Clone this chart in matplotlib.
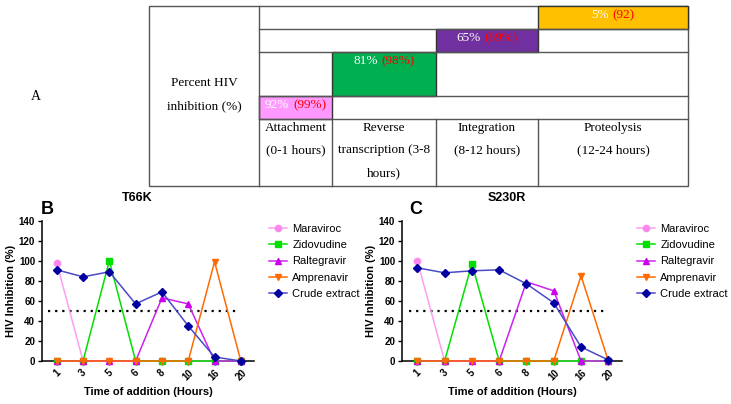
import numpy as np
import matplotlib
matplotlib.use('Agg')
import matplotlib.pyplot as plt
from matplotlib.patches import Rectangle
from matplotlib.offsetbox import TextArea, HPacker, AnnotationBbox

#%% Data
stages = ['Attachment\n(0-1 hours)', 'Reverse\ntranscription (3-8\nhours)',
          'Integration\n(8-12 hours)', 'Proteolysis\n(12-24 hours)']
stage_main = ['92%', '81%', '65%', '5%']
stage_ref = ['(99%)', '(98%)', '(69%)', '(92)']
stage_colors = ['#FF99FF', '#00B050', '#7030A0', '#FFC000']

times = ['1', '3', '5', '6', '8', '10', '16', '20']
drugs = ['Maraviroc', 'Zidovudine', 'Raltegravir', 'Amprenavir', 'Crude extract']

t66k_maraviroc = [98, 0, 0, 0, 0, 0, 0, 0]
t66k_zidovudine = [0, 0, 100, 0, 0, 0, 0, 0]
t66k_raltegravir = [0, 0, 0, 0, 63, 57, 0, 0]
t66k_amprenavir = [0, 0, 0, 0, 0, 0, 99, 0]
t66k_crude = [91, 84, 89, 57, 69, 35, 4, 0]

s230r_maraviroc = [100, 0, 0, 0, 0, 0, 0, 0]
s230r_zidovudine = [0, 0, 97, 0, 0, 0, 0, 0]
s230r_raltegravir = [0, 0, 0, 0, 79, 70, 0, 0]
s230r_amprenavir = [0, 0, 0, 0, 0, 0, 85, 0]
s230r_crude = [93, 88, 90, 91, 77, 58, 14, 1]

threshold = 50

# styles for each drug: (line colour, marker colour, marker)
styles = [('#FF9EF0', '#FF88EE', 'o'),
          ('#00E000', '#00E000', 's'),
          ('#CC22EE', '#CC00EE', '^'),
          ('#FF6A00', '#FF6A00', 'v'),
          ('#4A4AC8', '#0000A0', 'D')]

W, H = 731, 404
fig = plt.figure(figsize=(W/100, H/100), dpi=100)

#%% Panel A - table, drawn in pixel coordinates
ax_t = fig.add_axes([0, 0, 1, 1])
ax_t.set_xlim(0, W)
ax_t.set_ylim(H, 0)
ax_t.axis('off')

serif = 'Liberation Serif'
lc = '#555555'
col_x = [149, 259, 332, 436, 538, 688]
row_y = [6, 29, 52, 96, 119, 186]

# outer box and fixed lines
ax_t.add_patch(Rectangle((col_x[0], row_y[0]), col_x[-1]-col_x[0], row_y[-1]-row_y[0],
                         fill=False, ec=lc, lw=1))
ax_t.plot([col_x[1], col_x[1]], [row_y[0], row_y[-1]], color=lc, lw=1)
for y in row_y[1:5]:
    ax_t.plot([col_x[1], col_x[-1]], [y, y], color=lc, lw=1)
for x in col_x[2:5]:
    ax_t.plot([x, x], [row_y[4], row_y[5]], color=lc, lw=1)

for i, stage in enumerate(stages):
    r = 3 - i
    x0, x1 = col_x[i+1], col_x[i+2]
    y0, y1 = row_y[r], row_y[r+1]
    ax_t.add_patch(Rectangle((x0, y0), x1-x0, y1-y0, fc=stage_colors[i], ec='#333333', lw=1))
    box = HPacker(children=[TextArea(stage_main[i], textprops=dict(color='white', family=serif, size=9.5)),
                            TextArea(stage_ref[i], textprops=dict(color='red', family=serif, size=9.5))],
                  sep=3, pad=0, align='baseline')
    ab = AnnotationBbox(box, ((x0+x1)/2, y0+3), xycoords='data', box_alignment=(0.5, 1),
                        frameon=False, pad=0)
    ax_t.add_artist(ab)
    for j, line in enumerate(stage.split('\n')):
        ax_t.text((x0+x1)/2, 128 + j*22.5, line, ha='center', va='center',
                  family=serif, size=9.5)

ax_t.text(204, 83, 'Percent HIV', ha='center', va='center', family=serif, size=9.5)
ax_t.text(204, 106, 'inhibition (%)', ha='center', va='center', family=serif, size=9.5)
ax_t.text(36, 97, 'A', ha='center', va='center', family=serif, size=10)

#%% Panels B and C
sans = 'Liberation Sans'
panels = [
    ([42, 254], 'T66K', 137, 'B', 47.5, 269,
     [t66k_maraviroc, t66k_zidovudine, t66k_raltegravir, t66k_amprenavir, t66k_crude]),
    ([402, 622], 'S230R', 507, 'C', 416, 637,
     [s230r_maraviroc, s230r_zidovudine, s230r_raltegravir, s230r_amprenavir, s230r_crude]),
]
x = np.arange(len(times))
for (xr, title, tx, letter, lx, legx, series) in panels:
    ax = fig.add_axes([xr[0]/W, (H-361)/H, (xr[1]-xr[0])/W, (361-220.7)/H])
    for k, vals in enumerate(series):
        lcol, mcol, mk = styles[k]
        ax.plot(x, vals, color=lcol, lw=1.1, marker=mk, ms=4.5, mfc=mcol, mec=mcol,
                label=drugs[k], clip_on=False, zorder=3 + (k == 4))
    ax.axhline(threshold, xmin=0.03, xmax=0.935, color='black', ls=(0, (1, 2.2)), lw=1.6)
    ax.set_xlim(-0.56, 7.5)
    ax.set_ylim(0, 140)
    ax.set_yticks(np.arange(0, 141, 20))
    ax.set_xticks(x)
    ax.set_xticklabels(times, rotation=45, ha='center')
    for s in ['top', 'right']:
        ax.spines[s].set_visible(False)
    for s in ['left', 'bottom']:
        ax.spines[s].set_linewidth(1.1)
    ax.tick_params(direction='out', length=3, width=1, labelsize=7, pad=2)
    for lab in ax.get_xticklabels() + ax.get_yticklabels():
        lab.set_fontweight('bold')
        lab.set_family(sans)
    ax.set_xlabel('Time of addition (Hours)', fontsize=8, fontweight='bold', family=sans, labelpad=3)
    ax.set_ylabel('HIV Inhibition (%)', fontsize=8, fontweight='bold', family=sans, labelpad=2)
    fig.text(tx/W, 1-198/H, title, ha='center', va='center', fontsize=9, fontweight='bold', family=sans)
    fig.text(lx/W, 1-209.5/H, letter, ha='center', va='center', fontsize=13, fontweight='bold', family=sans)
    ax.legend(loc='upper left', bbox_to_anchor=(legx/W, 1-224/H), bbox_transform=fig.transFigure,
              frameon=False, borderpad=0, borderaxespad=0, handlelength=1.6, handletextpad=0.5,
              labelspacing=0.56, prop=dict(family=sans, size=8))

fig.savefig('out.png', dpi=100)
